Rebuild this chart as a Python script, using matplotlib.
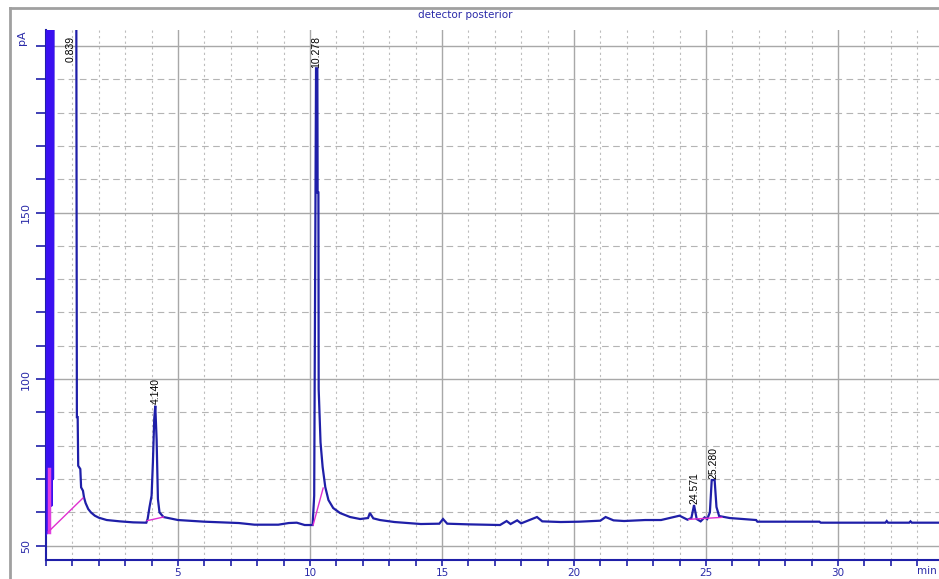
import matplotlib
matplotlib.use("Agg")
import matplotlib.pyplot as plt
from matplotlib.lines import Line2D
from matplotlib.ticker import MultipleLocator

# chromatogram trace (time in min, signal in pA)
time = [0.00, 0.03, 0.05, 0.08, 0.11, 0.14, 0.17, 0.20, 0.23, 0.26, 0.28,
        1.14, 1.17, 1.20, 1.22, 1.30, 1.33, 1.40, 1.44, 1.50, 1.60, 1.70,
        1.85, 2.00, 2.30, 2.80, 3.30, 3.80, 3.85, 3.92, 4.00, 4.05, 4.10,
        4.14, 4.19, 4.24, 4.30, 4.45, 5.00, 6.00, 7.30, 7.90, 8.80, 9.20,
        9.50, 9.80, 10.10, 10.16, 10.19, 10.23, 10.28, 10.29, 10.32, 10.33,
        10.40, 10.48, 10.58, 10.70, 10.88, 11.14, 11.52, 11.90, 12.20, 12.27,
        12.40, 12.65, 13.20, 14.20, 14.90, 15.04, 15.20, 16.00, 17.20, 17.45,
        17.60, 17.85, 18.00, 18.60, 18.80, 19.50, 20.20, 21.00, 21.20, 21.50,
        21.90, 22.70, 23.30, 24.00, 24.30, 24.45, 24.55, 24.65, 24.80, 24.95,
        25.05, 25.15, 25.22, 25.33, 25.40, 25.50, 25.90, 26.90, 26.95, 29.30,
        29.35, 31.80, 31.85, 31.90, 32.70, 32.75, 32.80, 34.00]
signal = [53.5, 54.0, 260, 54.5, 260, 56.0, 260, 62.0, 260, 70.0, 260,
          260, 88.6, 88.6, 74.0, 73.0, 67.5, 66.5, 64.5, 62.8, 61.0, 60.0,
          59.0, 58.4, 57.7, 57.3, 57.0, 56.9, 58.0, 61.5, 65.0, 75.0, 88.0,
          92.0, 82.0, 64.0, 60.0, 58.6, 57.7, 57.2, 56.8, 56.3, 56.3, 56.8,
          56.9, 56.2, 56.2, 65.0, 120.0, 193.3, 193.3, 156.0, 156.0, 97.0,
          81.0, 73.6, 67.6, 63.7, 61.3, 59.8, 58.6, 58.0, 58.3, 59.8,
          58.2, 57.7, 57.1, 56.5, 56.6, 58.0, 56.6, 56.4, 56.2, 57.4,
          56.5, 57.6, 56.7, 58.6, 57.3, 57.1, 57.2, 57.5, 58.6, 57.6,
          57.4, 57.7, 57.7, 59.0, 57.8, 58.3, 62.2, 58.0, 57.3, 58.5,
          58.0, 60.0, 69.7, 69.7, 61.6, 58.9, 58.3, 57.7, 57.2, 57.2,
          56.9, 56.9, 57.4, 56.9, 56.9, 57.3, 56.9, 56.9]

# integration baselines (start/end points)
base_t = [(0.08, 1.40), (3.83, 4.45), (10.12, 10.50), (24.35, 25.60)]
base_v = [(54.1, 64.3), (57.5, 58.6), (56.2, 67.3), (57.9, 58.5)]

# peak labels: text, time, signal at label foot
peak_names = ["0.839", "10.278", "4.140", "24.571", "25.280"]
peak_t = [0.93, 10.25, 4.15, 24.55, 25.27]
peak_v = [195.1, 193.3, 92.5, 62.5, 70.0]

navy = "#1f1fa8"
tickblue = "#2a2aa8"

fig = plt.figure(figsize=(9.39, 5.79), dpi=100)
ax = fig.add_axes([46/939, 19/579, (939-46)/939, (560-30)/579])
ax.set_xlim(0, 33.83)
ax.set_ylim(45.7, 204.8)

# outer window frame
fig.add_artist(Line2D([10/939, 1], [1-8/579, 1-8/579], color="#a0a0a0", lw=2))
fig.add_artist(Line2D([10/939, 10/939], [0, 1-8/579], color="#a0a0a0", lw=2))

ax.xaxis.set_major_locator(MultipleLocator(5))
ax.xaxis.set_minor_locator(MultipleLocator(1))
ax.yaxis.set_major_locator(MultipleLocator(50))
ax.yaxis.set_minor_locator(MultipleLocator(10))
ax.grid(which="major", color="#a8a8a8", lw=1.0, ls="-")
ax.grid(which="minor", axis="x", color="#bcbcbc", lw=0.8, ls=(0, (2, 3)))
ax.grid(which="minor", axis="y", color="#b4b4b4", lw=0.8, ls=(0, (6, 4)))
ax.set_axisbelow(True)

for s in ["top", "right"]:
    ax.spines[s].set_visible(False)
for s in ["left", "bottom"]:
    ax.spines[s].set_color(navy)
    ax.spines[s].set_linewidth(1.5)

ax.set_yticks([50, 100, 150, 200])
ax.set_yticklabels(["50", "100", "150", ""])
ax.tick_params(axis="y", which="both", length=7, color=navy, width=1.2,
               labelcolor=tickblue, labelsize=8, labelrotation=90, pad=4)
for lb in ax.get_yticklabels():
    lb.set_va("center")
ax.set_xticks([5, 10, 15, 20, 25, 30])
ax.set_xticklabels(["5", "10", "15", "20", "25", "30"])
ax.tick_params(axis="x", which="both", length=4, color=navy, width=1.2,
               labelcolor=tickblue, labelsize=7.5, pad=2)

# trace
ax.plot(time, signal, color=navy, lw=1.6, zorder=4, solid_joinstyle="miter")
n_band = 11
ax.plot(time[:n_band], signal[:n_band], color="#3a10f0", lw=1.8, zorder=5)
ax.plot([0.1, 0.1], [54.0, 73.0], color="#e040e0", lw=2.5, zorder=6)

for (t0, t1), (v0, v1) in zip(base_t, base_v):
    ax.plot([t0, t1], [v0, v1], color="#e030d0", lw=1.0, zorder=6)

# labels hidden under the solvent band
for lbl in ["0.102", "0.167"]:
    ax.text(0.22, 195.5, lbl, rotation=90, ha="center", va="bottom",
            fontsize=7.5, family="Liberation Sans", color="black", zorder=3)

for name, t, v in zip(peak_names, peak_t, peak_v):
    ax.text(t, v, name, rotation=90, ha="center", va="bottom",
            fontsize=7.5, family="Liberation Sans", color="black", zorder=7)

fig.text(465/939, 1-15/579, "detector posterior", ha="center", va="center",
         fontsize=7.5, color=tickblue)
fig.text(22/939, 1-38/579, "pA", rotation=90, ha="center", va="center",
         fontsize=8, color=tickblue)
fig.text(937/939, 1-566/579, "min", ha="right", va="top",
         fontsize=7.5, color=tickblue)

fig.savefig("out.png", dpi=100)
